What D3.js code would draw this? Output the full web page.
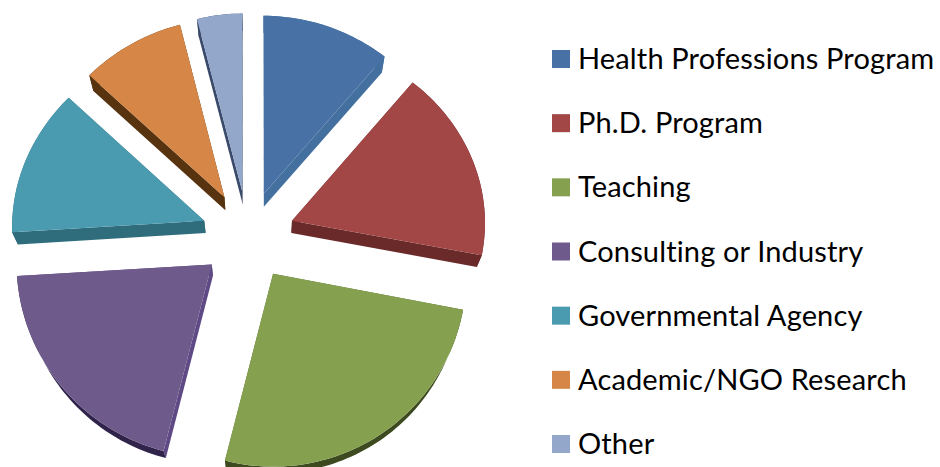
<!DOCTYPE html>
<html>
<head>
<meta charset="utf-8">
<script src="https://cdn.jsdelivr.net/npm/d3@7"></script>
<style>
html, body { margin: 0; padding: 0; background: #fff; }
svg { display: block; }
text { font-family: Lato, "Open Sans", sans-serif; fill: #000; font-variant-ligatures: none; letter-spacing: 0.15px; }
</style>
</head>
<body>
<svg id="chart" width="940" height="467"></svg>
<script>
var categories = ["Health Professions Program", "Ph.D. Program", "Teaching", "Consulting or Industry", "Governmental Agency", "Academic/NGO Research", "Other"];
var shares = [11, 17, 26, 20, 13, 9, 4];

var topColors = ["#4872a5", "#a24646", "#85a04f", "#6f5b8b", "#4a9ab0", "#d68646", "#93a7cb"];
var radialWallColors = ["#44709f", "#6b2a2a", "#5b6e35", "#5f4a85", "#2f6d7d", "#57330f", "#3a4a6a"];
var arcWallColors = ["#44709f", "#6b2a2a", "#3d4a20", "#30244a", "#2f6d7d", "#57330f", "#3a4a6a"];

var width = 940, height = 467;
var radius = 194;
var explode = 47;
var centerX = 248;
var wallDepth = 0.023;   // how far the bottom face shrinks towards the vanishing point
var vanish = [265, 760];

var svg = d3.select("#chart");

// plane coordinate to screen, the tilt of the pie is not quite linear
var screenY = d3.scaleLinear().domain([-227, -39, 47, 238]).range([460, 273, 191, 16]);
// the back of the pie is narrower than the front, more so on the left
var narrowLeft = d3.scaleLinear().domain([-227, -44, 3, 156, 238]).range([1, 1.005, 0.992, 0.965, 0.94]);
var narrowRight = d3.scaleLinear().domain([-227, 16, 194, 238]).range([1, 0.995, 0.978, 0.97]);

var pie = d3.pie().sort(null).value(function(d) { return d; });
var slices = pie(shares);
var line = d3.line();

function project(x, y) {
    var n = x < 0 ? narrowLeft(y) : narrowRight(y);
    return [centerX + x * n, screenY(y)];
}
function lower(p) {
    return [p[0] + (vanish[0] - p[0]) * wallDepth, p[1] + (vanish[1] - p[1]) * wallDepth];
}

function outline(s) {
    var mid = (s.startAngle + s.endAngle) / 2;
    var ox = explode * Math.sin(mid), oy = explode * Math.cos(mid);
    var steps = Math.max(8, Math.round((s.endAngle - s.startAngle) * 40));
    var arcPts = d3.range(steps + 1).map(function(i) {
        var a = s.startAngle + (s.endAngle - s.startAngle) * i / steps;
        return project(ox + radius * Math.sin(a), oy + radius * Math.cos(a));
    });
    return { apex: project(ox, oy), arc: arcPts };
}

var pieGroup = svg.append("g");

slices.forEach(function(s, i) {
    var o = outline(s);
    var g = pieGroup.append("g").attr("class", "slice");
    var first = o.arc[0], last = o.arc[o.arc.length - 1];

    g.append("path")
        .attr("d", line([o.apex, first, lower(first), lower(o.apex)]) + "Z")
        .attr("fill", radialWallColors[i]);
    g.append("path")
        .attr("d", line([o.apex, last, lower(last), lower(o.apex)]) + "Z")
        .attr("fill", radialWallColors[i]);
    g.append("path")
        .attr("d", line(o.arc.concat(o.arc.map(lower).reverse())) + "Z")
        .attr("fill", arcWallColors[i]);
    g.append("path")
        .attr("d", line([o.apex].concat(o.arc)) + "Z")
        .attr("fill", topColors[i]);
});

// legend
var legendY = d3.scalePoint().domain(categories).range([59, 444]);

var legend = svg.append("g").selectAll("g")
    .data(categories)
    .join("g")
    .attr("transform", function(d) { return "translate(552," + legendY(d) + ")"; });

legend.append("rect")
    .attr("x", 0)
    .attr("y", -9)
    .attr("width", 18)
    .attr("height", 18)
    .attr("fill", function(d, i) { return topColors[i]; });

legend.append("text")
    .attr("x", 26)
    .attr("y", 10)
    .attr("font-size", 29)
    .text(function(d) { return d; });
</script>
</body>
</html>
